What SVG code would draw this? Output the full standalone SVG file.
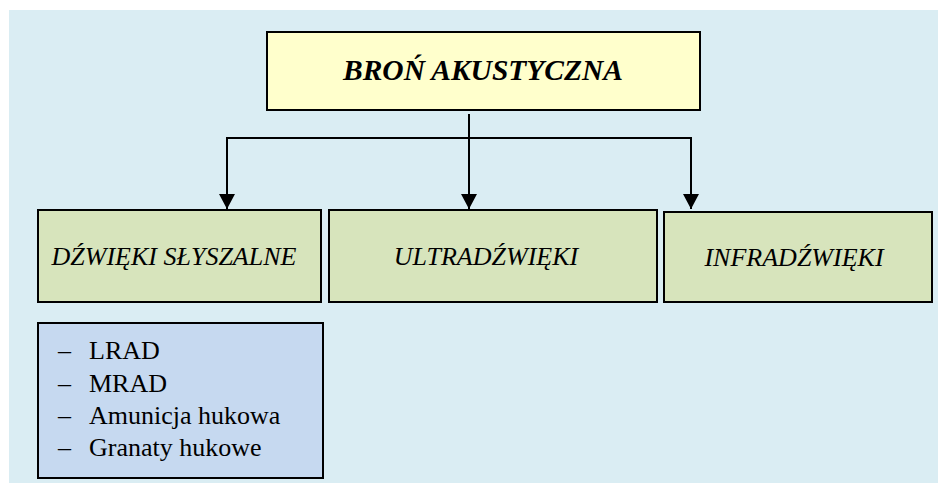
<svg xmlns="http://www.w3.org/2000/svg" width="938" height="483" viewBox="0 0 938 483">
  <style>
    .box { stroke: #000; stroke-width: 2; }
    .root { fill: #ffffcc; }
    .cat { fill: #d7e4bc; }
    .list { fill: #c6d9f0; }
    text { font-family: 'Liberation Serif', 'Tinos', 'Times New Roman', 'DejaVu Serif', serif; fill: #000; }
    .title { font-size: 29.5px; font-weight: bold; font-style: italic; }
    .lbl { font-size: 26px; font-style: italic; }
    .item { font-size: 26px; }
    .wire { fill: none; stroke: #000; stroke-width: 2; }
  </style>
  <defs>
    <marker id="arrow" viewBox="0 0 15 16" refX="15" refY="8" markerWidth="15" markerHeight="16" markerUnits="userSpaceOnUse" orient="auto">
      <path d="M0,0 L15,8 L0,16 Z" fill="#000"/>
    </marker>
  </defs>

  <!-- page background -->
  <rect x="9" y="10" width="929" height="473" fill="#daedf3"/>

  <g id="root">
    <rect class="box root" x="267" y="32" width="433" height="78"/>
    <text class="title" x="483" y="80" text-anchor="middle">BROŃ AKUSTYCZNA</text>
  </g>

  <g id="connectors">
    <line class="wire" x1="469" y1="114" x2="469" y2="209" marker-end="url(#arrow)"/>
    <polyline class="wire" points="227,209 227,138 691,138 691,209" marker-end="url(#arrow)"/>
    <line class="wire" x1="227" y1="150" x2="227" y2="209" marker-end="url(#arrow)"/>
  </g>

  <g id="audible">
    <rect class="box cat" x="38" y="210" width="283" height="92"/>
    <text class="lbl" x="174" y="265" text-anchor="middle">DŹWIĘKI SŁYSZALNE</text>
  </g>

  <g id="ultrasound">
    <rect class="box cat" x="329" y="210" width="328" height="92"/>
    <text class="lbl" x="486" y="265" text-anchor="middle">ULTRADŹWIĘKI</text>
  </g>

  <g id="infrasound">
    <rect class="box cat" x="664" y="212" width="268" height="90"/>
    <text class="lbl" x="794" y="266" text-anchor="middle">INFRADŹWIĘKI</text>
  </g>

  <g id="audible-list">
    <rect class="box list" x="38" y="323" width="285" height="155"/>
    <text class="item" x="58" y="359">–</text><text class="item" x="89" y="359">LRAD</text>
    <text class="item" x="58" y="392">–</text><text class="item" x="89" y="392">MRAD</text>
    <text class="item" x="58" y="424">–</text><text class="item" x="89" y="424">Amunicja hukowa</text>
    <text class="item" x="58" y="456">–</text><text class="item" x="89" y="456">Granaty hukowe</text>
  </g>
</svg>
